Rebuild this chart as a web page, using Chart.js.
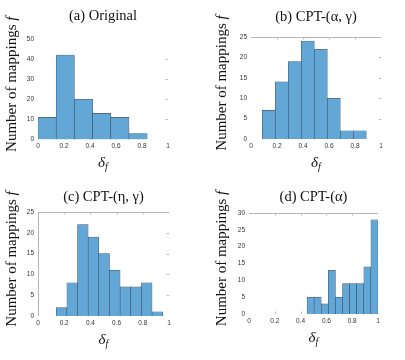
<!DOCTYPE html>
<html><head><meta charset="utf-8">
<script src="https://cdn.jsdelivr.net/npm/chart.js@4.4.0/dist/chart.umd.min.js"></script>
<style>
html,body{margin:0;padding:0;background:#fff;}
#wrap{position:relative;width:405px;height:360px;overflow:hidden;background:#fff;}
.pane{position:absolute;}
canvas{display:block;}
</style></head><body>
<div id="wrap">
<div class="pane" style="left:0;top:0"><canvas id="ca" width="200" height="178"></canvas></div>
<div class="pane" style="left:200px;top:0"><canvas id="cb" width="205" height="178"></canvas></div>
<div class="pane" style="left:0;top:178px"><canvas id="cc" width="200" height="182"></canvas></div>
<div class="pane" style="left:200px;top:178px"><canvas id="cd" width="205" height="182"></canvas></div>
</div>
<script>
// ---- data ----
const xTicks = [0, 0.2, 0.4, 0.6, 0.8, 1];

const titleA = '(a) Original';
const binCentersA = [0.07, 0.21, 0.35, 0.49, 0.63, 0.77];
const countsA = [11, 42, 20, 13, 11, 3];
const yTicksA = [0, 10, 20, 30, 40, 50];

const titleB = '(b) CPT-(\u03B1, \u03B3)';
const binCentersB = [0.137, 0.237, 0.337, 0.437, 0.537, 0.637, 0.737, 0.837];
const countsB = [7, 14, 19, 24, 22, 10, 2, 2];
const yTicksB = [0, 5, 10, 15, 20, 25];

const titleC = '(c) CPT-(\u03B7, \u03B3)';
const binCentersC = [0.1797, 0.2610, 0.3423, 0.4236, 0.5049, 0.5862, 0.6675, 0.7488, 0.8301, 0.9114];
const countsC = [2, 8, 22, 19, 15, 11, 7, 7, 8, 1];
const yTicksC = [0, 5, 10, 15, 20, 25];

const titleD = '(d) CPT-(\u03B1)';
const binCentersD = [0.4775, 0.5325, 0.5875, 0.6425, 0.6975, 0.7525, 0.8075, 0.8625, 0.9175, 0.9725];
const countsD = [5, 5, 3, 13, 5, 9, 9, 9, 14, 28];
const yTicksD = [0, 5, 10, 15, 20, 25, 30];

const yLabelText = 'Number of mappings ';
const yLabelItalic = 'f';
const xLabelMain = '\u03B4';
const xLabelSub = 'f';

// ---- style ----
const FILL = 'rgb(99,167,214)';
const EDGE = 'rgba(38,58,88,0.85)';
const TICK_FONT = { family: '"Liberation Sans", Arial, sans-serif', size: 6.5 };
const TICK_COLOR = '#333';
const SERIF = '"Liberation Serif", "DejaVu Serif", serif';

const decor = {
  id: 'decor',
  beforeDatasetsDraw(chart, args, o) {
    const { ctx, chartArea: a, scales: { x, y } } = chart;
    ctx.save();
    ctx.lineWidth = 1;
    ctx.strokeStyle = o.lineColor;
    if (o.boxTop) {
      ctx.beginPath();
      ctx.moveTo(a.left, Math.round(a.top) + 0.5);
      ctx.lineTo(a.right, Math.round(a.top) + 0.5);
      ctx.stroke();
    }
    if (o.boxLeft) {
      ctx.beginPath();
      ctx.moveTo(Math.round(a.left) + 0.5, a.top);
      ctx.lineTo(Math.round(a.left) + 0.5, a.bottom);
      ctx.stroke();
    }
    ctx.strokeStyle = o.tickColor;
    const L = 2.5;
    y.ticks.forEach((t, i) => {
      if (i === 0 || i === y.ticks.length - 1) return;
      const py = Math.round(y.getPixelForValue(t.value)) + 0.5;
      ctx.beginPath(); ctx.moveTo(a.right - L, py); ctx.lineTo(a.right, py); ctx.stroke();
    });
    x.ticks.forEach((t, i) => {
      if (i === 0 || i === x.ticks.length - 1) return;
      const px = Math.round(x.getPixelForValue(t.value)) + 0.5;
      ctx.beginPath(); ctx.moveTo(px, a.bottom - L); ctx.lineTo(px, a.bottom); ctx.stroke();
      if (o.boxTop) { ctx.beginPath(); ctx.moveTo(px, a.top); ctx.lineTo(px, a.top + L); ctx.stroke(); }
    });
    ctx.restore();
  },
  afterDraw(chart, args, o) {
    const { ctx, chartArea: a } = chart;
    const cx = (a.left + a.right) / 2;
    ctx.save();
    ctx.fillStyle = '#111';
    ctx.textBaseline = 'middle';
    // panel title
    ctx.font = '14.5px ' + SERIF;
    ctx.textAlign = 'center';
    ctx.fillText(o.title, cx, o.titleY);
    // y label
    ctx.save();
    ctx.translate(o.yLabelX, (a.top + a.bottom) / 2 - 5);
    ctx.rotate(-Math.PI / 2);
    ctx.textAlign = 'left';
    ctx.font = '15px ' + SERIF;
    const w1 = ctx.measureText(yLabelText).width;
    ctx.font = 'italic 15px ' + SERIF;
    const w2 = ctx.measureText(yLabelItalic).width;
    const s = -(w1 + w2) / 2;
    ctx.font = '15px ' + SERIF;
    ctx.fillText(yLabelText, s, 0);
    ctx.font = 'italic 15px ' + SERIF;
    ctx.fillText(yLabelItalic, s + w1, 0);
    ctx.restore();
    // x label
    ctx.textAlign = 'left';
    ctx.font = 'italic 15px ' + SERIF;
    const d1 = ctx.measureText(xLabelMain).width;
    ctx.font = 'italic 10px ' + SERIF;
    const d2 = ctx.measureText(xLabelSub).width;
    const sx = cx - (d1 + d2) / 2;
    const ly = a.bottom + o.xLabelDy;
    ctx.font = 'italic 15px ' + SERIF;
    ctx.fillText(xLabelMain, sx, ly);
    ctx.font = 'italic 10px ' + SERIF;
    ctx.fillText(xLabelSub, sx + d1, ly + 4);
    ctx.restore();
  }
};

function makeChart(id, title, centers, counts, yTicks, o) {
  return new Chart(document.getElementById(id), {
    type: 'bar',
    data: {
      datasets: [{
        data: centers.map((c, i) => ({ x: c, y: counts[i] })),
        backgroundColor: FILL,
        borderColor: EDGE,
        borderWidth: 0.6,
        borderSkipped: 'start',
        barPercentage: 1,
        categoryPercentage: 1
      }]
    },
    options: {
      responsive: false,
      animation: false,
      events: [],
      layout: { padding: o.pad },
      plugins: {
        legend: { display: false },
        tooltip: { enabled: false },
        title: { display: false },
        decor: {
          title: title, titleY: o.titleY, yLabelX: o.yLabelX, xLabelDy: 24,
          boxTop: o.boxTop, boxLeft: o.boxLeft,
          lineColor: '#b4b4b4', tickColor: '#bdbdbd'
        }
      },
      scales: {
        x: {
          type: 'linear', min: 0, max: 1, offset: false,
          grid: { display: false, drawTicks: false, offset: false },
          border: { display: false },
          afterBuildTicks: s => { s.ticks = xTicks.map(v => ({ value: v })); },
          afterFit: s => { s.height = 20; },
          ticks: { font: TICK_FONT, color: TICK_COLOR, padding: 3, maxRotation: 0, autoSkip: false, callback: v => String(v) }
        },
        y: {
          type: 'linear', min: 0, max: yTicks[yTicks.length - 1],
          grid: { display: false, drawTicks: false },
          border: { display: false },
          afterBuildTicks: s => { s.ticks = yTicks.map(v => ({ value: v })); },
          afterFit: s => { s.width = 22; },
          ticks: { font: TICK_FONT, color: TICK_COLOR, padding: 4, callback: v => String(v) }
        }
      }
    },
    plugins: [decor]
  });
}

makeChart('ca', titleA, binCentersA, countsA, yTicksA,
  { pad: { left: 16, right: 32, top: 39, bottom: 18.5 }, titleY: 16.5, yLabelX: 12, boxTop: false, boxLeft: false });
makeChart('cb', titleB, binCentersB, countsB, yTicksB,
  { pad: { left: 29, right: 24, top: 37, bottom: 19 }, titleY: 16.7, yLabelX: 22, boxTop: true, boxLeft: false });
makeChart('cc', titleC, binCentersC, countsC, yTicksC,
  { pad: { left: 16, right: 31, top: 34, bottom: 24 }, titleY: 18.7, yLabelX: 12, boxTop: true, boxLeft: true });
makeChart('cd', titleD, binCentersD, countsD, yTicksD,
  { pad: { left: 27, right: 27, top: 35, bottom: 26 }, titleY: 19, yLabelX: 22, boxTop: true, boxLeft: false });
</script>
</body></html>
